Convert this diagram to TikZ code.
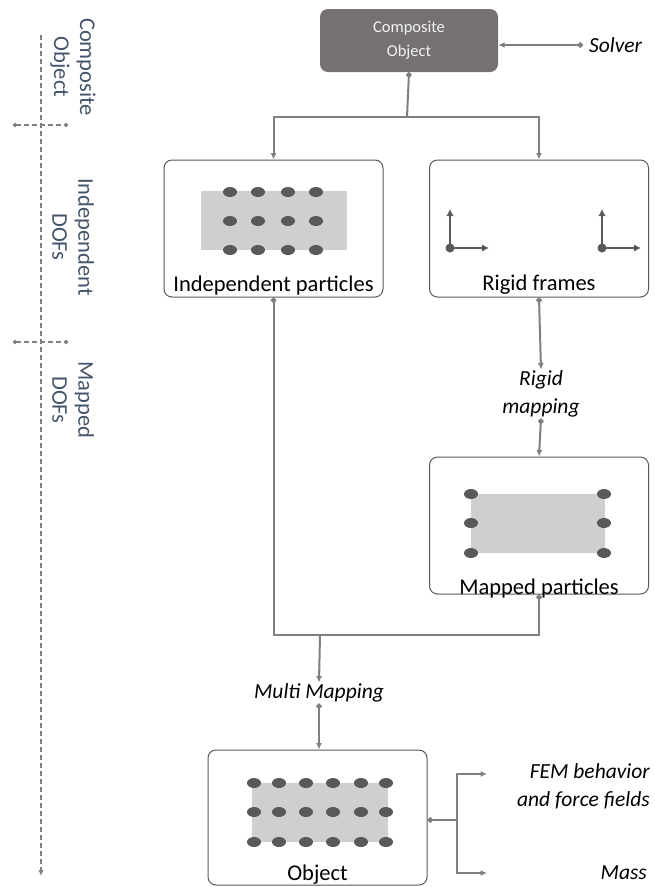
\documentclass[tikz,border=0pt]{standalone}
\usepackage{fontspec}
\setmainfont{Carlito}
\usetikzlibrary{arrows.meta, positioning}
\definecolor{compfill}{RGB}{118,113,113}
\definecolor{linegray}{RGB}{127,127,127}
\definecolor{dotgray}{RGB}{89,89,89}
\definecolor{sheetgray}{RGB}{208,206,206}
\definecolor{levelblue}{RGB}{68,84,106}

\begin{document}
\begin{tikzpicture}[x=1pt, y=-1pt,
    box/.style={draw=dotgray, rounded corners=8pt, line width=1pt,
                minimum width=219pt, minimum height=137pt},
    sheet/.style={fill=sheetgray, inner sep=0pt},
    lbl/.style={inner sep=0pt, font=\fontsize{22.5}{26}\selectfont},
    note/.style={inner sep=1pt, align=center, font=\fontsize{21.5}{28}\selectfont\itshape},
    level/.style={rotate=-90, align=center, text=levelblue, inner sep=0pt,
                  font=\fontsize{22.5}{26}\selectfont},
    line/.style={draw=linegray, line width=2pt},
    arr/.style={line, -{Latex[length=6.5pt, width=6pt]}},
    dotarr/.style={line, {Circle[length=5.5pt]}-{Latex[length=6.5pt, width=6pt]}},
    dotline/.style={line, {Circle[length=5.5pt]}-},
    axisdash/.style={draw=linegray, dash pattern=on 5pt off 3pt, line width=1.6pt},
    tick/.style={axisdash, {Circle[length=4pt]}-{Circle[length=4pt]}},
    frame/.style={draw=dotgray, line width=2.8pt, -{Latex[length=7pt, width=7.5pt]}}
  ]
    \useasboundingbox (0,0) rectangle (654,887);

    % levels on the left
    \draw[axisdash, -{Latex[length=6pt, width=5.5pt]}]
      (41,35) coordinate (axtop) -- (41,876) coordinate (axend);
    \draw[tick] (13,125) coordinate (t1a) -- (68,125) coordinate (t1b);
    \draw[tick] (13,342) coordinate (t2a) -- (68,342) coordinate (t2b);
    \node[level] (lvcomp) at (73,67) {Composite\\Object};
    \node[level] (lvind) at (73,237) {Independent\\DOFs};
    \node[level] (lvmap) at (73,400) {Mapped\\DOFs};

    % composite object and solver
    \node[fill=compfill, rounded corners=8pt, minimum width=178pt, minimum height=63pt,
          align=center, text={rgb,255:red,242;green,242;blue,242},
          font=\fontsize{16.5}{24}\selectfont] (comp) at (409,40.5) {Composite\\Object};
    \node[note, anchor=west] (solver) at (588,45) {Solver};
    \coordinate (solvdot) at (583,45);
    \draw[dotarr] (solvdot) -- (comp.east |- solvdot);

    % independent particles
    \node[box] (ind) at (273.5,228.5) {};
    \node[sheet, minimum width=146pt, minimum height=59pt] (indsheet) at (274,220.5) {};
    \foreach \x in {230,258,288,316}
      \foreach \y in {192,221,250}
        \fill[dotgray] (\x,\y) ellipse (7pt and 5pt);
    \node[lbl, above=2pt of ind.south] (indlbl) {Independent particles};

    % rigid frames
    \node[box] (rig) at (539,228.5) {};
    \foreach \x/\n in {450/fa, 602/fb} {
      \coordinate (\n) at (\x,248);
      \draw[frame] (\n) -- ++(0,-39);
      \draw[frame] (\n) -- ++(39,0);
      \fill[dotgray] (\n) circle (4.5pt);
    }
    \node[lbl, above=3pt of rig.south] (riglbl) {Rigid frames};

    % mapped particles
    \node[box] (map) at (539,525.5) {};
    \node[sheet, minimum width=134pt, minimum height=59pt] (mapsheet) at (537.5,523.5) {};
    \foreach \x in {471,604}
      \foreach \y in {494,523,553}
        \fill[dotgray] (\x,\y) ellipse (7pt and 5pt);
    \node[lbl, above=-4pt of map.south] (maplbl) {Mapped particles};

    % object
    \node[box, minimum height=135pt] (obj) at (317.5,817.5) {};
    \node[sheet, minimum width=136pt, minimum height=59pt] (objsheet) at (320,812.5) {};
    \foreach \x in {254,279,306,333,361,386}
      \foreach \y in {783,812,842}
        \fill[dotgray] (\x,\y) ellipse (7pt and 5pt);
    \node[lbl, above=1pt of obj.south] (objlbl) {Object};

    % mapping labels
    \node[note] (rmap) at (541,394) {Rigid\\mapping};
    \node[note] (mmap) at (319,693) {Multi Mapping};
    \node[note, anchor=north east, align=right] (fem) at (651,762) {FEM behavior\\and force fields};
    \node[note, anchor=east] (mass) at (648,873) {Mass};

    % connectors
    \coordinate (split) at (407,117);
    \draw[dotline] (comp.south) -- (split);
    \draw[arr] (split) -| (ind.north);
    \draw[arr] (split) -| (rig.north);
    \draw[dotarr] (rig.south) -- (rmap.north);
    \draw[dotarr] (rmap.south) -- (map.north);
    \coordinate (merge) at (320,635);
    \draw[line, {Circle[length=5.5pt]}-{Circle[length=5.5pt]}]
      (ind.south) |- (map.south |- merge) -- (map.south);
    \draw[arr] (merge) -- (mmap.north);
    \draw[dotarr] (mmap.south) -- (obj.north -| mmap.south);
    \coordinate (fork) at (457,820);
    \coordinate (femend) at (487,774);
    \coordinate (massend) at (487,873);
    \draw[dotline] (obj.east |- fork) -- (fork);
    \draw[arr] (fork) |- (femend);
    \draw[arr] (fork) |- (massend);
\end{tikzpicture}
\end{document}
